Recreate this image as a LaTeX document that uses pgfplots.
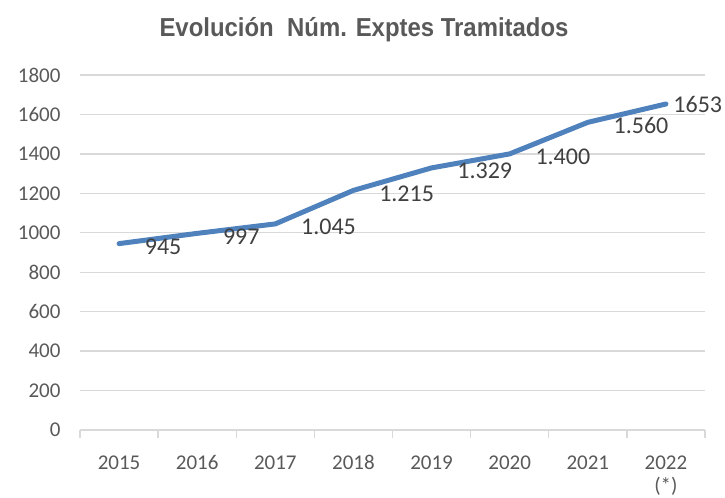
\documentclass[border=0pt]{standalone}
\usepackage{pgfplots}
\pgfplotsset{compat=1.18}
\usepackage{fontspec}
\setmainfont{Carlito}
\newfontfamily\titlefont[FakeStretch=0.92]{Liberation Sans}
\definecolor{lineblue}{HTML}{4F81BD}
\definecolor{gridgray}{HTML}{D9D9D9}
\definecolor{textgray}{HTML}{595959}
\definecolor{labgray}{HTML}{404040}
\begin{document}
\begin{tikzpicture}
\useasboundingbox (-80bp,-68bp) rectangle (645bp,430bp);
\begin{axis}[
  at={(0,0)}, anchor=south west,
  scale only axis, width=625bp, height=355bp,
  xmin=-0.5, xmax=7.5, ymin=0, ymax=1800,
  ytick={0,200,...,1800},
  ymajorgrids, grid style={gridgray, line width=1.3bp},
  axis x line*=bottom, axis y line*=left,
  y axis line style={draw=none},
  x axis line style={draw=gridgray, line width=1.3bp, -},
  xtick={-0.5,0.5,...,7.5},
  x tick label as interval,
  xticklabels={\strut 2015,\strut 2016,\strut 2017,\strut 2018,\strut 2019,\strut 2020,\strut 2021,{\strut 2022\\(*)}},
  xticklabel style={align=center, anchor=north, font=\fontsize{21bp}{23bp}\selectfont, text=textgray, yshift=-12bp},
  major x tick style={draw=gridgray, line width=1.3bp},
  tick align=outside, major tick length=8bp,
  ytick style={draw=none},
  yticklabel style={font=\fontsize{21bp}{24bp}\selectfont, text=textgray, xshift=-8bp},
  /pgf/number format/assume math mode=true,
  /pgf/number format/.cd, 1000 sep={},
  /pgfplots/.cd,
  clip=false,
]
\addplot[lineblue, line width=5bp, line join=round, line cap=round,
  nodes near coords, point meta=explicit symbolic,
  nodes near coords style={font=\fontsize{24bp}{27bp}\selectfont, text=labgray, anchor=west, xshift=20bp, yshift=-3bp}]
  coordinates {(0,945) [945] (1,997) [997] (2,1045) [1.045] (3,1215) [1.215] (4,1329) [1.329] (5,1400) [1.400] (6,1560) [1.560] (7,1653) []};
\addplot[draw=none, nodes near coords, point meta=explicit symbolic,
  nodes near coords style={font=\fontsize{24bp}{27bp}\selectfont, text=labgray, anchor=west, xshift=4bp, yshift=0bp}]
  coordinates {(7,1653) [1653]};
\end{axis}
\node[font=\titlefont\bfseries\fontsize{26bp}{30bp}\selectfont, text=textgray] at (284bp,400bp) {Evolución\ \ Núm. Exptes Tramitados};
\end{tikzpicture}
\end{document}
